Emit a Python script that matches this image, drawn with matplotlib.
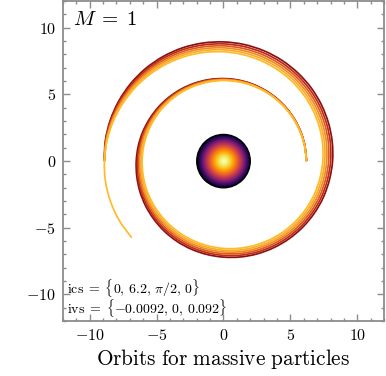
import numpy as np
import matplotlib
matplotlib.use('Agg')
import matplotlib.pyplot as plt
from matplotlib.patches import Circle, PathPatch
from matplotlib.path import Path
from matplotlib.ticker import MultipleLocator

plt.rcParams['mathtext.fontset'] = 'cm'

# orbit radius, one value every 10 degrees of phi
phi_deg = list(range(0, 590, 10))
r_yellow = [6.20, 6.17, 6.14, 6.12, 6.10, 6.08, 6.07, 6.06, 6.05, 6.05,
            6.04, 6.04, 6.04, 6.04, 6.05, 6.05, 6.06, 6.07, 6.08, 6.10,
            6.13, 6.16, 6.20, 6.25, 6.31, 6.38, 6.46, 6.55, 6.64, 6.73,
            6.83, 6.93, 7.03, 7.13, 7.23, 7.32, 7.42, 7.52, 7.61, 7.70,
            7.79, 7.88, 7.96, 8.04, 8.12, 8.20, 8.28, 8.36, 8.44, 8.52,
            8.60, 8.68, 8.76, 8.84, 8.90, 8.95, 8.97, 8.97, 8.95]
r_red = [6.20, 6.19, 6.18, 6.17, 6.16, 6.16, 6.16, 6.17, 6.18, 6.19,
         6.21, 6.23, 6.26, 6.29, 6.33, 6.37, 6.42, 6.47, 6.52, 6.58,
         6.65, 6.72, 6.79, 6.87, 6.95, 7.03, 7.11, 7.20, 7.30, 7.40,
         7.50, 7.61, 7.72, 7.83, 7.94, 8.04, 8.15, 8.25, 8.35, 8.45,
         8.55, 8.64, 8.73, 8.81, 8.88, 8.94, 8.99, 9.03, 9.05, 9.06,
         9.05, 9.03, 9.00, 8.96, 8.91]

# share of the red orbit in each drawn curve, and where each one stops
curve_mix = [1.0, 0.8, 0.6, 0.4, 0.2, 0.0]
curve_end = [540, 540, 540, 540, 540, 580]
curve_colors = ['#8c1010', '#bb2a1a', '#dd5a1c', '#f08a22', '#f9ac2a', '#ffbb28']

horizon_r = 2.0
ticks = [-10, -5, 0, 5, 10]
tick_labels = ['$-10$', '$-5$', '$0$', '$5$', '$10$']
mass_text = r'$M\;=\;1$'
ics_text = r'$\mathrm{ics}\;=\;\{0,\,6.2,\,\pi/2,\,0\}$'
ivs_text = r'$\mathrm{ivs}\;=\;\{-0.0092,\,0,\,0.092\}$'
title = r'$\mathrm{Orbits\ for\ massive\ particles}$'


def smooth_path(x, y):
    # catmull-rom through the read points, handed to matplotlib as bezier segments
    p = np.column_stack([x, y])
    q = np.vstack([p[:1], p, p[-1:]])
    verts = [p[0]]
    codes = [Path.MOVETO]
    for i in range(len(p) - 1):
        c1 = q[i + 1] + (q[i + 2] - q[i]) / 6
        c2 = q[i + 2] - (q[i + 3] - q[i + 1]) / 6
        verts += [c1, c2, q[i + 2]]
        codes += [Path.CURVE4] * 3
    return Path(verts, codes)


fig = plt.figure(figsize=(3.86, 3.76), dpi=100)
ax = fig.add_axes([0.163, 0.146, 0.832, 0.851])

for mix, end, col in zip(curve_mix, curve_end, curve_colors):
    n = end // 10 + 1
    phi = np.radians(phi_deg[:n])
    if mix == 0:
        r = np.array(r_yellow[:n])
    else:
        r = mix * np.array(r_red[:n]) + (1 - mix) * np.array(r_yellow[:n])
    ax.add_patch(PathPatch(smooth_path(r * np.cos(phi), r * np.sin(phi)),
                           fill=False, edgecolor=col, lw=1.25, capstyle='butt', zorder=2))

# horizon disk with a radial glow
g = np.linspace(-horizon_r, horizon_r, 300)
X, Y = np.meshgrid(g, g)
rho = np.clip(np.sqrt(X**2 + Y**2) / horizon_r, 0, 1)
img = ax.imshow(1 - rho**1.5, cmap='inferno', vmin=0, vmax=1, origin='lower',
                extent=(-horizon_r, horizon_r, -horizon_r, horizon_r), zorder=3)
disk = Circle((0, 0), horizon_r, facecolor='none', edgecolor='black', lw=1.0, zorder=4)
ax.add_patch(disk)
img.set_clip_path(disk)

ax.set_xlim(-12, 12)
ax.set_ylim(-12, 12)
ax.set_aspect('auto')
ax.set_xticks(ticks)
ax.set_xticklabels(tick_labels)
ax.set_yticks(ticks)
ax.set_yticklabels(tick_labels)
ax.xaxis.set_minor_locator(MultipleLocator(1))
ax.yaxis.set_minor_locator(MultipleLocator(1))
ax.tick_params(which='both', direction='in', top=True, right=True, color='#8c8c8c',
               labelsize=11.5, labelcolor='black', width=1.0)
ax.tick_params(which='major', length=5, pad=5)
ax.tick_params(which='minor', length=2.5)
for s in ax.spines.values():
    s.set_color('#8c8c8c')
    s.set_linewidth(1.3)

ax.text(0.03, 0.975, mass_text, transform=ax.transAxes, fontsize=15, va='top', ha='left')
ax.text(0.012, 0.105, ics_text, transform=ax.transAxes, fontsize=10, va='center', ha='left')
ax.text(0.012, 0.042, ivs_text, transform=ax.transAxes, fontsize=10, va='center', ha='left')
ax.set_xlabel(title, fontsize=15.3, labelpad=3)

fig.savefig('out.png', dpi=100)
